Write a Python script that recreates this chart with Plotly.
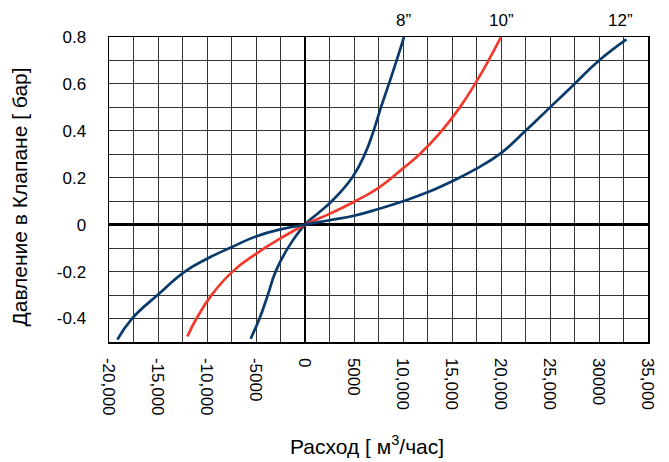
import plotly.graph_objects as go

# Flow (m3/h) and pressure drop (bar) for each valve size
q_8 = [-5550, -4640, -3800, -3000, -1750, 0, 1360, 2730, 4800, 6100, 7000, 7750, 8560, 9350, 10100]
p_8 = [-0.486, -0.4, -0.3, -0.2, -0.1, 0, 0.05, 0.1, 0.2, 0.3, 0.4, 0.5, 0.6, 0.7, 0.8]

q_10 = [-12000, -11070, -9540, -7400, -5000, -2500, 0, 2500, 5110, 7500, 10000, 11700, 13950, 15800, 17350, 18730, 20000]
p_10 = [-0.476, -0.4, -0.3, -0.2, -0.124, -0.058, 0, 0.046, 0.1, 0.157, 0.24, 0.3, 0.4, 0.5, 0.6, 0.7, 0.8]

q_12 = [-19150, -17650, -15050, -12260, -10000, -7500, -5000, -2500, 0, 2500, 5000, 7500, 10000, 12500, 15000, 17500, 20000, 22500, 25000, 27500, 30000, 32800]
p_12 = [-0.49, -0.4, -0.3, -0.2, -0.145, -0.096, -0.05, -0.02, 0, 0.019, 0.038, 0.067, 0.1, 0.138, 0.185, 0.239, 0.305, 0.4, 0.5, 0.6, 0.7, 0.79]

curve_labels = ["8\u201d", "10\u201d", "12\u201d"]
curve_label_x = [10000, 20000, 32200]

x_tick_vals = [-20000, -15000, -10000, -5000, 0, 5000, 10000, 15000, 20000, 25000, 30000, 35000]
x_tick_text = ["-20,000", "-15,000", "-10,000", "-5000", "0", "5000", "10,000", "15,000",
               "20,000", "25,000", "30000", "35,000"]

y_tick_vals = [-0.4, -0.2, 0, 0.2, 0.4, 0.6, 0.8]
y_tick_text = ["-0.4", "-0.2", "0", "0.2", "0.4", "0.6", "0.8"]

BLUE = "#0a3a6b"
RED = "#f03a2c"
GRID = "#333333"
FONT = "Liberation Sans, Arial, sans-serif"

fig = go.Figure()
for q, p, c in [(q_8, p_8, BLUE), (q_10, p_10, RED), (q_12, p_12, BLUE)]:
    fig.add_trace(go.Scatter(x=q, y=p, mode="lines", line=dict(color=c, width=2.7, shape="spline", smoothing=1.3),
                             showlegend=False, hoverinfo="skip"))

for lab, xv in zip(curve_labels, curve_label_x):
    fig.add_annotation(x=xv, y=1, xref="x", yref="paper", yshift=17, text=lab, showarrow=False,
                       font=dict(family=FONT, size=17, color="black"), xanchor="center", yanchor="middle")

fig.add_annotation(x=0.479, y=0, xref="paper", yref="paper", yshift=-103, text="Расход [ м<sup>3</sup>/час]",
                   showarrow=False, font=dict(family=FONT, size=21, color="black"), xanchor="center", yanchor="middle")
fig.add_annotation(x=0, y=0.5, xref="paper", yref="paper", xshift=-90, yshift=-8, text="Давление в Клапане [ бар]",
                   textangle=-90, showarrow=False, font=dict(family=FONT, size=21, color="black"),
                   xanchor="center", yanchor="middle")

fig.update_layout(
    width=669, height=462,
    margin=dict(l=109, r=21, t=37, b=120),
    paper_bgcolor="white", plot_bgcolor="white",
    font=dict(family=FONT, size=17, color="black"),
    xaxis=dict(range=[-20000, 35000], tickmode="array", tickvals=x_tick_vals, ticktext=x_tick_text, tickangle=90,
               showgrid=True, gridcolor=GRID, gridwidth=1,
               minor=dict(tickmode="linear", tick0=0, dtick=2500, showgrid=True, gridcolor=GRID, gridwidth=1, ticks=""),
               zeroline=True, zerolinecolor="black", zerolinewidth=2.6,
               showline=True, mirror=True, linecolor="black", linewidth=1.5,
               ticks="", ticklabelstandoff=11, tickfont=dict(size=17)),
    yaxis=dict(range=[-0.5, 0.8], tickmode="array", tickvals=y_tick_vals, ticktext=y_tick_text,
               showgrid=True, gridcolor=GRID, gridwidth=1,
               minor=dict(tickmode="linear", tick0=0, dtick=0.1, showgrid=True, gridcolor=GRID, gridwidth=1, ticks=""),
               zeroline=True, zerolinecolor="black", zerolinewidth=2.6,
               showline=True, mirror=True, linecolor="black", linewidth=1.5,
               ticks="", ticklabelstandoff=18, tickfont=dict(size=17)),
)

fig.write_html("out.html", config={"displayModeBar": False, "staticPlot": True},
               post_script="document.body.style.margin='0';document.body.style.overflow='hidden';")
